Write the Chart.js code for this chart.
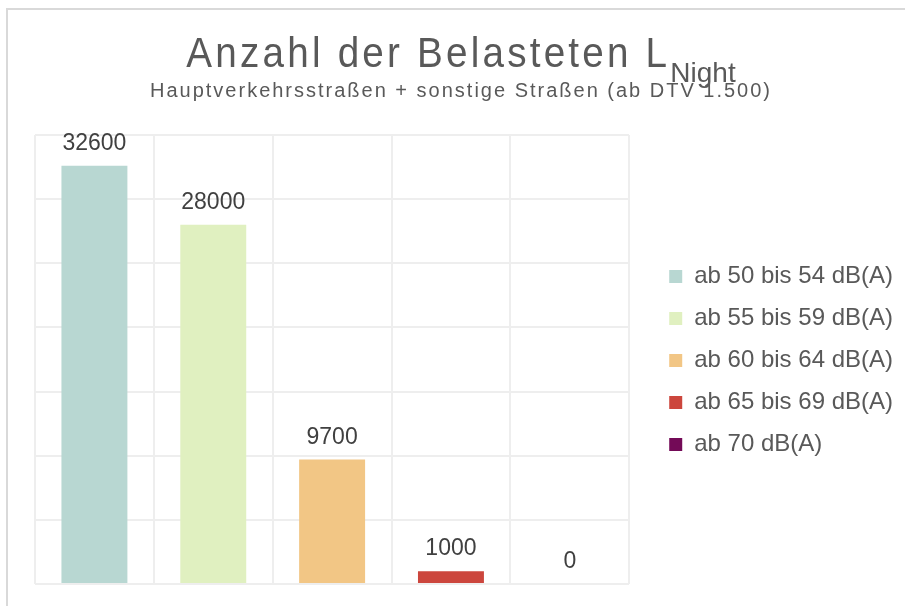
<!DOCTYPE html>
<html>
<head>
<meta charset="utf-8">
<script src="https://cdn.jsdelivr.net/npm/chart.js@4.4.1/dist/chart.umd.min.js"></script>
<style>
  html, body { margin: 0; padding: 0; background: #fff; }
  #wrap { width: 905px; height: 606px; position: relative; }
</style>
</head>
<body>
<div id="wrap"><canvas id="chart"></canvas></div>
<script>
// Data
const categories = ["ab 50 bis 54 dB(A)", "ab 55 bis 59 dB(A)", "ab 60 bis 64 dB(A)", "ab 65 bis 69 dB(A)", "ab 70 dB(A)"];
const values = [32600, 28000, 9700, 1000, 0];
const barColors = ["#b8d7d2", "#e0f0c0", "#f2c685", "#cc463d", "#730a57"];
const yMin = 0, yMax = 35000, yStep = 5000;

const titleMain = "Anzahl der Belasteten L";
const titleSub = "Night";
const subtitle = "Hauptverkehrsstraßen + sonstige Straßen (ab DTV 1.500)";

const FONT = "Arial, 'Liberation Sans', sans-serif";
const TEXT = "#595959";
const GRID = "#eeeeee";

Chart.defaults.font.family = FONT;
Chart.defaults.color = TEXT;

// white background + light frame
const framePlugin = {
  id: "frame",
  beforeDraw(chart) {
    const ctx = chart.ctx;
    ctx.save();
    ctx.fillStyle = "#fff";
    ctx.fillRect(0, 0, chart.width, chart.height);
    ctx.strokeStyle = "#d9d9d9";
    ctx.lineWidth = 2;
    ctx.beginPath();
    ctx.moveTo(7, chart.height);
    ctx.lineTo(7, 9);
    ctx.lineTo(chart.width, 9);
    ctx.stroke();
    ctx.restore();
  }
};

// draw text spread to a target width
function fitText(ctx, text, x, y, target) {
  const w = ctx.measureText(text).width;
  const sp = (target - w) / text.length;
  ctx.letterSpacing = sp + "px";
  ctx.fillText(text, x, y);
  ctx.letterSpacing = "0px";
}

// title with subscript and subtitle
const titlePlugin = {
  id: "titles",
  afterDraw(chart) {
    const ctx = chart.ctx;
    const cx = 461;
    ctx.save();
    ctx.fillStyle = TEXT;
    ctx.textAlign = "left";
    ctx.textBaseline = "alphabetic";

    const mainW = 484;
    ctx.font = "28px " + FONT;
    const subW = ctx.measureText(titleSub).width;
    const x0 = cx - (mainW + subW) / 2;

    ctx.save();
    ctx.font = "42px " + FONT;
    ctx.translate(x0, 67);
    ctx.scale(0.92, 1);
    fitText(ctx, titleMain, 0, 0, mainW / 0.92);
    ctx.restore();

    ctx.font = "28px " + FONT;
    ctx.fillText(titleSub, x0 + mainW, 82);

    ctx.font = "20px " + FONT;
    const sw = 622;
    fitText(ctx, subtitle, cx - sw / 2, 97, sw);
    ctx.restore();
  }
};

// value labels above bars
const valuePlugin = {
  id: "values",
  afterDatasetsDraw(chart) {
    const ctx = chart.ctx;
    const meta = chart.getDatasetMeta(0);
    ctx.save();
    ctx.font = "23px " + FONT;
    ctx.fillStyle = "#404040";
    ctx.textAlign = "center";
    ctx.textBaseline = "alphabetic";
    meta.data.forEach((bar, i) => {
      ctx.fillText(String(values[i]), bar.x, bar.y - 16);
    });
    ctx.restore();
  }
};

new Chart(document.getElementById("chart"), {
  type: "bar",
  data: {
    labels: categories,
    datasets: [{
      label: "Belastete",
      data: values,
      backgroundColor: barColors,
      borderWidth: 0,
      barPercentage: 0.555,
      categoryPercentage: 1.0
    }]
  },
  options: {
    responsive: true,
    maintainAspectRatio: false,
    animation: false,
    devicePixelRatio: 1,
    layout: { padding: { top: 135, left: 35, right: 2, bottom: 20 } },
    plugins: {
      title: { display: false },
      tooltip: { enabled: false },
      legend: {
        position: "right",
        maxWidth: 400,
        onClick: null,
        labels: {
          boxWidth: 13,
          boxHeight: 13,
          padding: 18,
          color: TEXT,
          font: { size: 24 },
          generateLabels: () => categories.map((c, i) => ({
            text: c,
            fillStyle: barColors[i],
            strokeStyle: barColors[i],
            fontColor: TEXT,
            lineWidth: 0,
            hidden: false,
            index: i
          }))
        }
      }
    },
    scales: {
      x: {
        offset: true,
        grid: { color: GRID, lineWidth: 2, drawTicks: false, offset: true },
        border: { display: false },
        ticks: { display: false },
        afterFit: (s) => { s.height = 2; }
      },
      y: {
        position: "right",
        min: yMin,
        max: yMax,
        grid: { color: GRID, lineWidth: 2, drawTicks: false },
        border: { display: false },
        ticks: { display: false, stepSize: yStep },
        afterFit: (s) => { s.width = 22; }
      }
    }
  },
  plugins: [framePlugin, titlePlugin, valuePlugin]
});
</script>
</body>
</html>
